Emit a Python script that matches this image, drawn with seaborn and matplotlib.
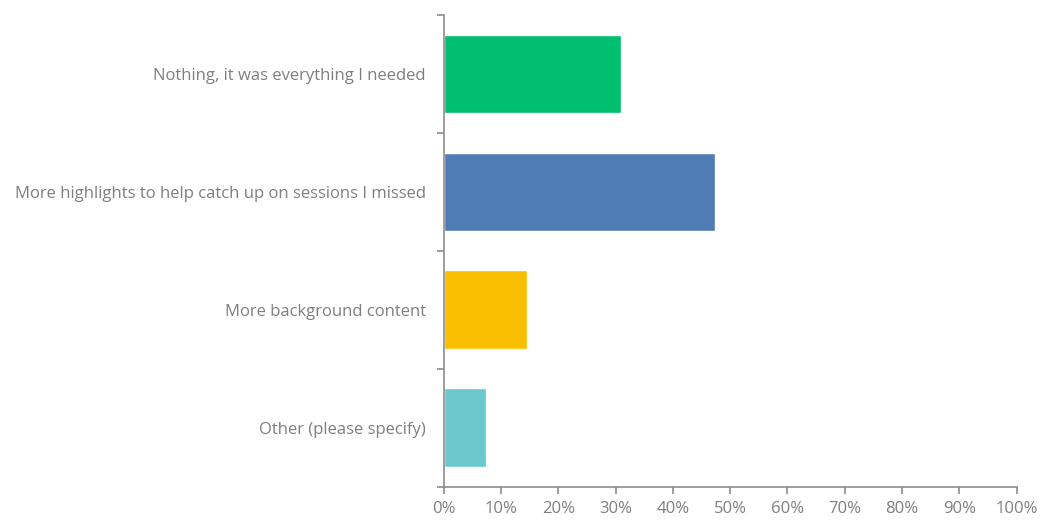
import matplotlib
matplotlib.use("Agg")
import matplotlib.pyplot as plt
import seaborn as sns
import pandas as pd
import numpy as np
from matplotlib.ticker import FixedLocator, PercentFormatter

answers = [
    "Nothing, it was everything I needed",
    "More highlights to help catch up on sessions I missed",
    "More background content",
    "Other (please specify)",
]
shares = [30.9, 47.35, 14.5, 7.4]
colors = ["#00BF6F", "#507CB6", "#F9BE00", "#6BC8CD"]
x_ticks = list(range(0, 101, 10))

sns.set_theme(style="white")
plt.rcParams["font.family"] = ["Open Sans", "DejaVu Sans"]

df = pd.DataFrame({"answer": answers, "share": shares})

fig = plt.figure(figsize=(10.42, 5.21), dpi=100)
ax = fig.add_axes([0.4258, 0.0658, 0.9757 - 0.4258, 0.9712 - 0.0658])

sns.barplot(data=df, y="answer", x="share", hue="answer", palette=colors,
            order=answers, hue_order=answers, width=0.667, legend=False,
            saturation=1, ax=ax)

axis_color = "#8C8C8C"
text_color = "#7F7F7F"

ax.set_xlim(0, 100)
ax.set_ylim(len(answers) - 0.5, -0.5)
ax.set_xlabel("")
ax.set_ylabel("")

for side in ["top", "right"]:
    ax.spines[side].set_visible(False)
for side in ["left", "bottom"]:
    ax.spines[side].set_color(axis_color)
    ax.spines[side].set_linewidth(1.2)

ax.xaxis.set_major_locator(FixedLocator(x_ticks))
ax.xaxis.set_major_formatter(PercentFormatter(decimals=0))
ax.tick_params(axis="x", direction="out", length=5, width=1.2, color=axis_color,
               labelcolor=text_color, labelsize=12, pad=5, bottom=True)

# category labels without ticks; boundary ticks between categories
ax.tick_params(axis="y", which="major", length=0, labelcolor=text_color,
               labelsize=12, pad=13, left=True)
ax.yaxis.set_minor_locator(FixedLocator(np.arange(-0.5, len(answers), 1.0)))
ax.tick_params(axis="y", which="minor", direction="out", length=5, width=1.2,
               color=axis_color, left=True)

fig.savefig("out.png", dpi=100, facecolor="white")
